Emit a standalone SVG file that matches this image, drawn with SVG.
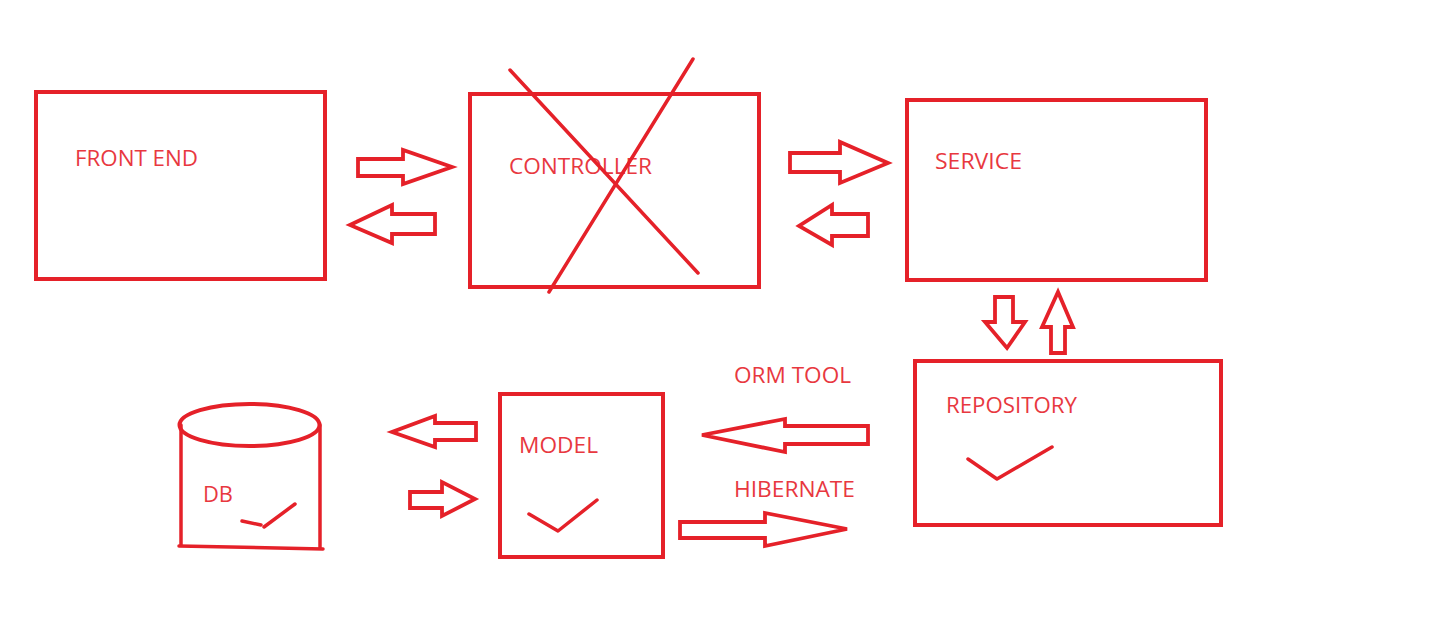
<svg xmlns="http://www.w3.org/2000/svg" width="1443" height="633" viewBox="0 0 1443 633">
<style>
.b{fill:none;stroke:#e52129;stroke-width:4}
.a{fill:none;stroke:#e52129;stroke-width:3.8;stroke-linejoin:miter}
.l{fill:none;stroke:#e52129;stroke-width:3.5;stroke-linecap:round;stroke-linejoin:round}
.t{font-family:"Open Sans","Liberation Sans",sans-serif;font-size:22px;fill:#e8383f}
</style>
<rect width="1443" height="633" fill="#ffffff"/>
<g id="front-end">
<rect class="b" x="36" y="92" width="289" height="187"/>
<text class="t" x="75" y="166" textLength="123" lengthAdjust="spacingAndGlyphs">FRONT END</text>
</g>
<g id="controller">
<rect class="b" x="470" y="94" width="289" height="193"/>
<text class="t" x="509" y="174" textLength="143" lengthAdjust="spacingAndGlyphs">CONTROLLER</text>
<line class="l" x1="510" y1="70" x2="698" y2="273"/>
<line class="l" x1="693" y1="59" x2="549" y2="292"/>
</g>
<g id="service">
<rect class="b" x="907" y="100" width="299" height="180"/>
<text class="t" x="935" y="169" textLength="87" lengthAdjust="spacingAndGlyphs">SERVICE</text>
</g>
<g id="repository">
<rect class="b" x="915" y="361" width="306" height="164"/>
<text class="t" x="946" y="413" textLength="131" lengthAdjust="spacingAndGlyphs">REPOSITORY</text>
<polyline class="l" points="968,459 997,479 1052,447"/>
</g>
<g id="model">
<rect class="b" x="500" y="394" width="163" height="163"/>
<text class="t" x="519" y="453" textLength="79" lengthAdjust="spacingAndGlyphs">MODEL</text>
<polyline class="l" points="529,514 558,531 597,500"/>
</g>
<g id="db">
<ellipse class="b" cx="249.5" cy="425" rx="70" ry="21"/>
<line class="l" x1="181" y1="425" x2="181" y2="545"/>
<line class="l" x1="320" y1="425" x2="320" y2="548"/>
<line class="l" x1="179" y1="546" x2="323" y2="549"/>
<text class="t" x="203" y="502" textLength="30" lengthAdjust="spacingAndGlyphs">DB</text>
<line class="l" x1="242" y1="521" x2="261" y2="525"/>
<line class="l" x1="264" y1="527" x2="295" y2="504"/>
</g>
<g id="labels">
<text class="t" x="734" y="383" textLength="117" lengthAdjust="spacingAndGlyphs">ORM TOOL</text>
<text class="t" x="734" y="497" textLength="121" lengthAdjust="spacingAndGlyphs">HIBERNATE</text>
</g>
<g id="connectors">
<polygon class="a" points="358,159 403,159 403,150 452,167 403,184 403,176 358,176"/>
<polygon class="a" points="435,214 392,214 392,205 350,225 392,243 392,234 435,234"/>
<polygon class="a" points="790,153 840,153 840,142 888,163 840,183 840,172 790,172"/>
<polygon class="a" points="868,214 832,214 832,205 799,226 832,245 832,236 868,236"/>
<polygon class="a" points="995,297 1013,297 1013,322 1025,322 1007,348 985,322 995,322"/>
<polygon class="a" points="1051,353 1065,353 1065,327 1073,327 1058,292 1042,327 1051,327"/>
<polygon class="a" points="476,423 435,423 435,416 392,432 435,447 435,440 476,440"/>
<polygon class="a" points="410,492 442,492 442,482 475,499 442,516 442,508 410,508"/>
<polygon class="a" points="868,426 785,426 785,419 702,435 785,452 785,444 868,444"/>
<polygon class="a" points="680,522 765,522 765,513 847,529 765,546 765,538 680,538"/>
</g>
</svg>
